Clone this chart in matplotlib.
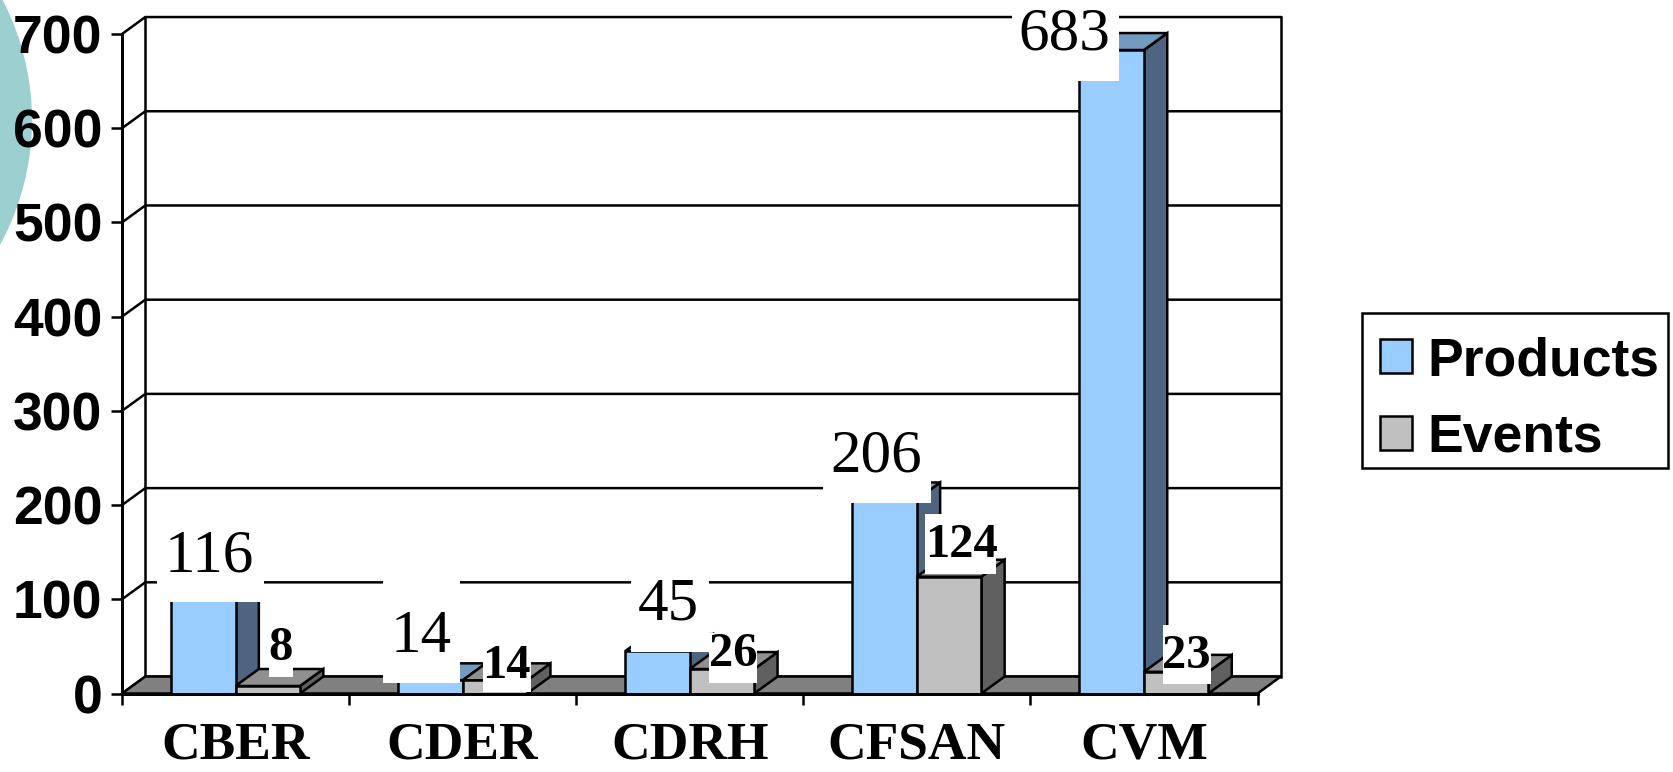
"""FDA centre counts: products vs events, drawn as a faux 3D column chart."""

import matplotlib
matplotlib.use("Agg")
import matplotlib.pyplot as plt
from matplotlib.patches import Circle, Polygon, Rectangle
from matplotlib.transforms import Affine2D, IdentityTransform

categories = ["CBER", "CDER", "CDRH", "CFSAN", "CVM"]
products = [116, 14, 45, 206, 683]
events = [8, 14, 26, 124, 23]
y_ticks = [0, 100, 200, 300, 400, 500, 600, 700]

# label layout relative to the bar's front top centre, in pixels, y down:
# text dx, baseline dy, box left, top, right, bottom
product_layout = [
    (5.7, -13, -46.8, -63, 60.2, 17.7),
    (-8.9, -28.8, -47.4, -103.8, 29.1, 2.9),
    (10.7, -31.7, -27, -74.7, 51, 1.3),
    (-8.1, -27.7, -62.1, -73.4, 45.9, 3.3),
    (-47.6, -0.7, -100.2, -50, 6.8, 31),
]
event_layout = [
    (12.7, -25.5, 1.7, -59.5, 25.7, -8.8),
    (11.6, -2.1, -11.4, -38.8, 36.6, 11.2),
    (11, -2.6, -12.5, -35.9, 35.5, 14.1),
    (12, -19.4, -23.6, -62.7, 47.4, -2.7),
    (10.3, -3.4, -12.7, -46.4, 34.9, 12.6),
]

W, H = 1673, 772
BAR_W = 0.284
DEPTH_X = 0.1026
DEPTH_Y = 18
LW = 1.8
SANS = "Liberation Sans"
SERIF = "Liberation Serif"

product_colors = ("#99CCFF", "#4F6480", "#739ABF")  # front, side, top
event_colors = ("#C0C0C0", "#606060", "#909090")

fig = plt.figure(figsize=(W / 100, H / 100), dpi=100, facecolor="white")
ax = fig.add_axes([122 / W, (H - 693.5) / H, 1135.5 / W, 659.5 / H])
ax.patch.set_visible(False)
ax.set_xlim(0, 5)
ax.set_ylim(0, 700)

# teal blob from the slide background, cut by the left edge
px = Affine2D().scale(1 / W, -1 / H).translate(0, 1) + fig.transFigure
blob = Circle((-228, 120), 260, transform=px, facecolor="#9CCFD0", edgecolor="none", zorder=-1)
fig.add_artist(blob)

# walls and floor
for v in y_ticks:
    ax.plot([0, DEPTH_X, 5 + DEPTH_X], [v, v + DEPTH_Y, v + DEPTH_Y], color="black", lw=LW,
            clip_on=False, zorder=1, solid_joinstyle="miter")
ax.plot([DEPTH_X, DEPTH_X], [DEPTH_Y, 700 + DEPTH_Y], color="black", lw=LW, clip_on=False, zorder=1)
ax.plot([5 + DEPTH_X, 5 + DEPTH_X], [DEPTH_Y, 700 + DEPTH_Y], color="black", lw=LW, clip_on=False, zorder=1)
floor = [(0, 0), (DEPTH_X, DEPTH_Y), (5 + DEPTH_X, DEPTH_Y), (5, 0)]
ax.add_patch(Polygon(floor, closed=True, facecolor="#808080", edgecolor="black", lw=LW,
                     clip_on=False, zorder=1.5))


def draw_bars(lefts, values, colors, z, label):
    front, side, top = colors
    for x, v in zip(lefts, values):
        r = x + BAR_W
        ax.add_patch(Polygon([(r, 0), (r + DEPTH_X, DEPTH_Y), (r + DEPTH_X, v + DEPTH_Y), (r, v)],
                             closed=True, facecolor=side, edgecolor="black", lw=LW, zorder=z, clip_on=False))
        ax.add_patch(Polygon([(x, v), (x + DEPTH_X, v + DEPTH_Y), (r + DEPTH_X, v + DEPTH_Y), (r, v)],
                             closed=True, facecolor=top, edgecolor="black", lw=LW, zorder=z, clip_on=False))
    return ax.bar(lefts, values, width=BAR_W, align="edge", color=front, edgecolor="black", lw=LW,
                  zorder=z + 0.01, label=label, clip_on=False)


centres = [i + 0.5 for i in range(len(categories))]
p_bars = draw_bars([c - BAR_W for c in centres], products, product_colors, 3, "Products")
e_bars = draw_bars(centres, events, event_colors, 3.1, "Events")


def draw_label(x, v, layout, **text_kw):
    tx, base, left, top, right, bottom = layout
    bx, by = ax.transData.transform((x, v))
    ax.add_patch(Rectangle((bx + left, by - bottom), right - left, bottom - top,
                           transform=IdentityTransform(), facecolor="white", edgecolor="none",
                           zorder=5, clip_on=False))
    ax.annotate(str(v), xy=(x, v), xytext=(tx, -base), textcoords="offset pixels",
                ha="center", va="baseline", family=SERIF, color="black", zorder=5.5,
                annotation_clip=False, **text_kw)


for c, v, lay in zip(centres, products, product_layout):
    draw_label(c - BAR_W / 2, v, lay, fontsize=44)
for c, v, lay in zip(centres, events, event_layout):
    draw_label(c + BAR_W / 2, v, lay, fontsize=35, fontweight="bold")

# axes furniture
for name in ("top", "right"):
    ax.spines[name].set_visible(False)
for name in ("left", "bottom"):
    ax.spines[name].set_linewidth(LW * 1.2)
    ax.spines[name].set_zorder(6)

ax.set_yticks(y_ticks)
ax.set_yticklabels([str(v) for v in y_ticks], fontsize=38.5, fontweight="bold", family=SANS)
ax.tick_params(axis="y", length=8, width=LW, pad=6)
ax.set_xticks(range(6))
ax.set_xticklabels([])
ax.set_xticks(centres, labels=categories, minor=True)
ax.tick_params(axis="x", which="major", length=8, width=LW)
ax.tick_params(axis="x", which="minor", length=0, pad=20.5)
for t in ax.get_xticklabels(minor=True):
    t.set_fontsize(38.5)
    t.set_fontweight("bold")
    t.set_family(SERIF)

# legend frame is drawn apart: the reference has more room above the rows than below
fig.add_artist(Rectangle((1362, 313), 306, 155, transform=px, facecolor="white", edgecolor="black",
                         lw=LW, zorder=4))
leg = fig.legend(handles=[p_bars, e_bars], labels=["Products", "Events"],
                 loc="lower left", bbox_to_anchor=(1380 / W, (H - 463) / H), borderaxespad=0,
                 prop={"family": SANS, "weight": "bold", "size": 38.5},
                 handlelength=0.6, handleheight=0.6, handletextpad=0.28,
                 labelspacing=0.5, borderpad=0, frameon=False)
leg.set_zorder(5)

fig.savefig("out.png", dpi=100)
plt.close(fig)
